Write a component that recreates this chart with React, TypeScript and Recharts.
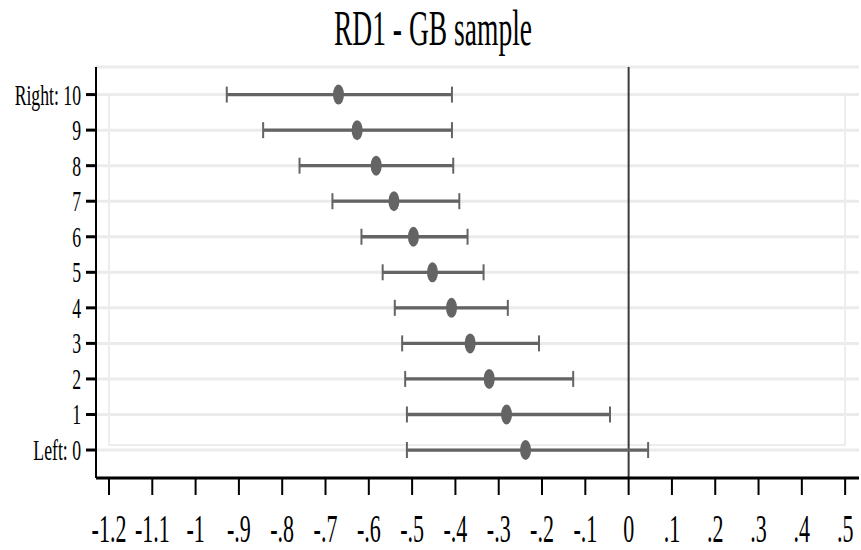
import React from "react";
import {
  ScatterChart,
  Scatter,
  XAxis,
  YAxis,
  CartesianGrid,
  ErrorBar,
  ReferenceLine,
  ReferenceArea,
} from "recharts";

// rows: 0 = Left, 10 = Right
const rows = [0, 1, 2, 3, 4, 5, 6, 7, 8, 9, 10];
const rowLabels = ["Left: 0", "1", "2", "3", "4", "5", "6", "7", "8", "9", "Right: 10"];

const estimates = [-0.238, -0.282, -0.322, -0.366, -0.409, -0.453, -0.497, -0.542, -0.583, -0.627, -0.67];
const lower = [-0.512, -0.512, -0.516, -0.523, -0.54, -0.568, -0.617, -0.684, -0.76, -0.844, -0.928];
const upper = [0.045, -0.043, -0.128, -0.207, -0.279, -0.335, -0.372, -0.391, -0.405, -0.408, -0.408];

const xTicks = [-1.2, -1.1, -1, -0.9, -0.8, -0.7, -0.6, -0.5, -0.4, -0.3, -0.2, -0.1, 0, 0.1, 0.2, 0.3, 0.4, 0.5];
const xLabels = ["-1.2", "-1.1", "-1", "-.9", "-.8", "-.7", "-.6", "-.5", "-.4", "-.3", "-.2", "-.1", "0", ".1", ".2", ".3", ".4", ".5"];

const data = rows.map((r, i) => ({
  row: r,
  est: estimates[i],
  ci: [estimates[i] - lower[i], upper[i] - estimates[i]],
}));

const FONT = "'Liberation Serif', 'Times New Roman', serif";
const GRAY = "#646464";

const XTick = (props: any) => {
  const { x, payload } = props;
  const idx = xTicks.findIndex((t) => Math.abs(t - payload.value) < 1e-6);
  // baseline placed just under the tick marks, like the reference
  return (
    <g transform={`translate(${x},542)`}>
      <text
        transform="scale(0.55,1)"
        textAnchor="middle"
        fontSize={40}
        fontFamily={FONT}
        fill="#000"
      >
        {idx >= 0 ? xLabels[idx] : payload.value}
      </text>
    </g>
  );
};

const YTick = (props: any) => {
  const { y, payload } = props;
  return (
    <g transform={`translate(81,${y})`}>
      <text
        transform="scale(0.59,1)"
        textAnchor="end"
        dy={10}
        fontSize={30}
        fontFamily={FONT}
        fill="#000"
      >
        {rowLabels[payload.value]}
      </text>
    </g>
  );
};

const Dot = (props: any) => {
  const { cx, cy } = props;
  return <ellipse cx={cx} cy={cy} rx={5.5} ry={10} fill={GRAY} />;
};

export default function App() {
  return (
    <div style={{ position: "absolute", left: 0, top: 0, width: 861, height: 550, background: "#fff" }}>
      <svg width={861} height={70} style={{ position: "absolute", left: 0, top: 0 }}>
        <text
          transform="translate(433,45) scale(0.54,1)"
          textAnchor="middle"
          fontSize={51}
          fontFamily={FONT}
          fill="#000"
        >
          RD1 - GB sample
        </text>
      </svg>
      <ScatterChart
        width={861}
        height={550}
        margin={{ top: 67, right: 2, bottom: 0, left: 0 }}
      >
        <CartesianGrid horizontal vertical={false} stroke="#ebebeb" strokeWidth={3} />
        <ReferenceArea
          x1={-1.2}
          x2={0.5}
          y1={0.14}
          y2={10}
          fill="none"
          stroke="#ededed"
          strokeWidth={2}
        />
        <XAxis
          type="number"
          dataKey="est"
          domain={[-1.23, 0.532]}
          ticks={xTicks}
          allowDataOverflow
          interval={0}
          height={72}
          tickSize={17}
          axisLine={{ stroke: "#000", strokeWidth: 3 }}
          tickLine={{ stroke: "#000", strokeWidth: 2 }}
          tick={<XTick />}
        />
        <YAxis
          type="number"
          dataKey="row"
          domain={[-0.787, 10.776]}
          ticks={rows}
          allowDataOverflow
          interval={0}
          width={96}
          tickSize={10}
          axisLine={{ stroke: "#000", strokeWidth: 2 }}
          tickLine={{ stroke: "#000", strokeWidth: 3 }}
          tick={<YTick />}
        />
        <ReferenceLine x={0} stroke="#3a3a3a" strokeWidth={2} />
        <Scatter data={data} shape={<Dot />} isAnimationActive={false}>
          <ErrorBar dataKey="ci" direction="x" width={8} stroke={GRAY} strokeWidth={2} isAnimationActive={false} />
          <ErrorBar dataKey="ci" direction="x" width={0} stroke={GRAY} strokeWidth={3.3} isAnimationActive={false} />
        </Scatter>
      </ScatterChart>
    </div>
  );
}
